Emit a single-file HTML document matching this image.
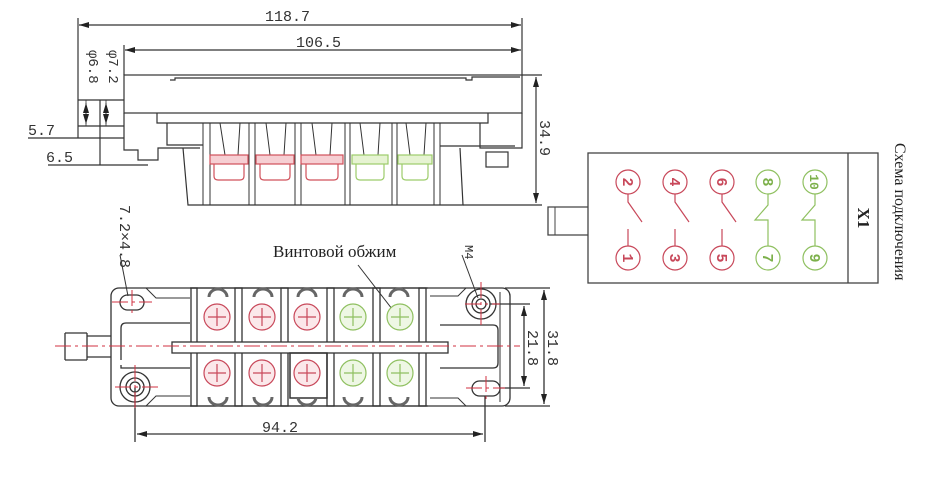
<!DOCTYPE html>
<html><head><meta charset="utf-8"><style>
html,body{margin:0;padding:0;background:#fff;}
svg{display:block}
text{font-family:"Liberation Mono","DejaVu Sans Mono",monospace;}
.s{font-family:"Liberation Serif","DejaVu Serif",serif;}
</style></head><body>
<svg width="928" height="478" viewBox="0 0 928 478" xmlns="http://www.w3.org/2000/svg">
<defs>
<marker id="a" viewBox="0 0 10 6" refX="10" refY="3" markerWidth="10" markerHeight="6" orient="auto-start-reverse" markerUnits="userSpaceOnUse"><path d="M0,0L10,3L0,6z" fill="#222"/></marker>
</defs>
<g fill="none" stroke="#333" stroke-width="1.2">
<line x1="79" y1="25" x2="521" y2="25" marker-start="url(#a)" marker-end="url(#a)"/>
<line x1="125" y1="50" x2="521" y2="50" marker-start="url(#a)" marker-end="url(#a)"/>
<line x1="522" y1="18" x2="522" y2="75"/>
<line x1="78" y1="18" x2="78" y2="138"/>
<line x1="124" y1="45" x2="124" y2="75"/>
<line x1="100" y1="100" x2="100" y2="165"/>
<line x1="86" y1="100" x2="86" y2="126" stroke-width="0.8"/>
<line x1="106" y1="100" x2="106" y2="126" stroke-width="0.8"/>
<line x1="78" y1="100" x2="124" y2="100"/>
<line x1="78" y1="126" x2="124" y2="126"/>
<line x1="86" y1="103" x2="86" y2="124" marker-start="url(#a)" marker-end="url(#a)" stroke-width="0.8"/>
<line x1="106" y1="103" x2="106" y2="124" marker-start="url(#a)" marker-end="url(#a)" stroke-width="0.8"/>
<line x1="28" y1="138" x2="124" y2="138"/>
<line x1="48" y1="165" x2="148" y2="165"/>
<rect x="124" y="75" width="398" height="38"/>
<path d="M170,80 L175,80 L175,78 L466,78 L466,80 L472,80 L472,77 L520,77"/>
<path d="M157,113 L157,123 L488,123 L488,113"/>
<path d="M124,113 L124,150 L138,150 L138,160 L158,160 L158,148 L200,148"/>
<path d="M167,123 L167,145 L203,145"/>
<path d="M522,113 L522,148 L480,148 L480,123"/>
<rect x="486" y="152" width="22" height="15"/>
<line x1="440" y1="146" x2="515" y2="146"/>
<path d="M183,148 L188,205 L463,205 L460,148"/>
<g stroke-width="1">
<line x1="203" y1="123" x2="203" y2="205"/><line x1="210" y1="123" x2="210" y2="205"/>
<line x1="249" y1="123" x2="249" y2="205"/><line x1="255" y1="123" x2="255" y2="205"/>
<line x1="295" y1="123" x2="295" y2="205"/><line x1="301" y1="123" x2="301" y2="205"/>
<line x1="345" y1="123" x2="345" y2="205"/><line x1="350" y1="123" x2="350" y2="205"/>
<line x1="392" y1="123" x2="392" y2="205"/><line x1="397" y1="123" x2="397" y2="205"/>
<line x1="434" y1="123" x2="434" y2="205"/><line x1="440" y1="123" x2="440" y2="205"/>
<path d="M220,123 L225,155 M240,123 L238,155 M266,123 L270,155 M286,123 L284,155 M312,123 L316,155 M332,123 L330,155 M360,123 L364,155 M380,123 L378,155 M406,123 L410,155 M426,123 L424,155"/>
</g>
<line x1="522" y1="75" x2="542" y2="75"/>
<line x1="463" y1="205" x2="542" y2="205"/>
<line x1="536" y1="77" x2="536" y2="203" marker-start="url(#a)" marker-end="url(#a)"/>
</g>
<g stroke-width="1.2">
<g stroke="#d0505a" fill="#f6cfd3">
<rect x="210" y="155" width="38" height="9"/><rect x="256" y="155" width="38" height="9"/><rect x="301" y="155" width="42" height="9"/>
</g>
<g stroke="#d0505a" fill="none">
<path d="M214,164 V176 Q214,180 218,180 H240 Q244,180 244,176 V164"/>
<path d="M260,164 V176 Q260,180 264,180 H286 Q290,180 290,176 V164"/>
<path d="M306,164 V176 Q306,180 310,180 H334 Q338,180 338,176 V164"/>
</g>
<g stroke="#9ccc6a" fill="#e6f3d2">
<rect x="352" y="155" width="36" height="9"/><rect x="398" y="155" width="34" height="9"/>
</g>
<g stroke="#9ccc6a" fill="none">
<path d="M356,164 V176 Q356,180 360,180 H380 Q384,180 384,176 V164"/>
<path d="M402,164 V176 Q402,180 406,180 H424 Q428,180 428,176 V164"/>
</g>
</g>
<text x="265" y="21" font-size="15" fill="#333">118.7</text>
<text x="296" y="47" font-size="15" fill="#333">106.5</text>
<text x="28" y="135" font-size="15" fill="#333">5.7</text>
<text x="46" y="162" font-size="15" fill="#333">6.5</text>
<text transform="translate(89,50) rotate(90)" font-size="14" fill="#333">φ6.8</text>
<text transform="translate(109,50) rotate(90)" font-size="14" fill="#333">φ7.2</text>
<text transform="translate(540,120) rotate(90)" font-size="15" fill="#333">34.9</text>

<g fill="none" stroke="#333" stroke-width="1.3">
<rect x="111" y="288" width="399" height="118" rx="8"/>
<path d="M87,336 H111 M87,357 H111 M87,333 V360 M65,333 H87 M65,360 H87 M65,333 V360"/>
<path d="M121,360 V328 Q121,323 126,323 H190"/>
<path d="M121,365 V368 H190"/>
<path d="M440,325 H493 Q498,325 498,330 V363 Q498,368 493,368 H440"/>
<path d="M146,288 L156,298 H190 M146,406 L156,396 H190 M466,288 L458,296 H430 M466,406 L458,398 H430" stroke-width="1"/>
<path d="M500,292 V402" stroke-width="1"/>
<line x1="190" y1="288" x2="428" y2="288"/><line x1="190" y1="406" x2="428" y2="406"/>
<rect x="191" y="288" width="6" height="118"/><rect x="235" y="288" width="7" height="118"/>
<rect x="281" y="288" width="7" height="118"/><rect x="327" y="288" width="7" height="118"/>
<rect x="373" y="288" width="7" height="118"/><rect x="419" y="288" width="7" height="118"/>
<rect x="172" y="342" width="276" height="11" fill="#fff"/>
<rect x="290" y="353" width="37" height="45" stroke-width="1.5"/>
<rect x="120" y="295" width="24" height="15" rx="7.5"/>
<rect x="472" y="381" width="28" height="15" rx="7.5"/>
<circle cx="135" cy="387" r="15"/><circle cx="135" cy="387" r="9"/><circle cx="135" cy="387" r="5"/>
<circle cx="481" cy="304" r="15"/><circle cx="481" cy="304" r="9"/><circle cx="481" cy="304" r="5"/>
<line x1="135" y1="387" x2="135" y2="442"/><line x1="485" y1="396" x2="485" y2="442"/>
<line x1="137" y1="434" x2="483" y2="434" marker-start="url(#a)" marker-end="url(#a)"/>
<line x1="490" y1="304" x2="530" y2="304"/><line x1="500" y1="388" x2="530" y2="388"/>
<line x1="524" y1="306" x2="524" y2="386" marker-start="url(#a)" marker-end="url(#a)"/>
<line x1="505" y1="288" x2="550" y2="288"/><line x1="505" y1="406" x2="550" y2="406"/>
<line x1="544" y1="290" x2="544" y2="404" marker-start="url(#a)" marker-end="url(#a)"/>
<line x1="120" y1="255" x2="128" y2="296" stroke-width="1"/>
<line x1="462" y1="255" x2="478" y2="298" stroke-width="1"/>
<line x1="358" y1="265" x2="399" y2="318" stroke-width="1"/>
</g>
<g fill="none" stroke="#666" stroke-width="3">
<path d="M209,297 A9,8 0 0 1 227,297"/><path d="M254,297 A9,8 0 0 1 272,297"/><path d="M298,297 A9,8 0 0 1 316,297"/><path d="M344,297 A9,8 0 0 1 362,297"/><path d="M390,297 A9,8 0 0 1 408,297"/>
<path d="M209,397 A9,8 0 0 0 227,397"/><path d="M254,397 A9,8 0 0 0 272,397"/><path d="M298,397 A9,8 0 0 0 316,397"/><path d="M344,397 A9,8 0 0 0 362,397"/><path d="M390,397 A9,8 0 0 0 408,397"/>
</g>
<g stroke-width="1.2">
<g stroke="#c8485a" fill="#fbe8ea">
<circle cx="217" cy="317" r="13"/><circle cx="262" cy="317" r="13"/><circle cx="307" cy="317" r="13"/>
<circle cx="217" cy="373" r="13"/><circle cx="262" cy="373" r="13"/><circle cx="307" cy="373" r="13"/>
</g>
<g stroke="#8fc060" fill="#eef7e4">
<circle cx="353" cy="317" r="13"/><circle cx="400" cy="317" r="13"/>
<circle cx="353" cy="373" r="13"/><circle cx="400" cy="373" r="13"/>
</g>
<g fill="none" stroke="#c8485a">
<path d="M217,308V326M208,317H226M262,308V326M253,317H271M307,308V326M298,317H316M217,364V382M208,373H226M262,364V382M253,373H271M307,364V382M298,373H316"/>
</g>
<g fill="none" stroke="#8fc060">
<path d="M353,308V326M344,317H362M400,308V326M391,317H409M353,364V382M344,373H362M400,364V382M391,373H409"/>
</g>
</g>
<g stroke="#d03040" stroke-width="1" fill="none" stroke-dasharray="16,4,3,4">
<line x1="55" y1="346" x2="520" y2="346"/>
<line x1="112" y1="302" x2="152" y2="302"/><line x1="132" y1="290" x2="132" y2="315"/>
<line x1="115" y1="387" x2="158" y2="387"/><line x1="135" y1="365" x2="135" y2="412"/>
<line x1="465" y1="304" x2="500" y2="304"/><line x1="481" y1="282" x2="481" y2="326"/>
<line x1="466" y1="388" x2="505" y2="388"/><line x1="486" y1="376" x2="486" y2="402"/>
</g>
<text class="s" x="273" y="257" font-size="17" fill="#222">Винтовой обжим</text>
<text x="262" y="432" font-size="15" fill="#333">94.2</text>
<text transform="translate(120,205) rotate(90)" font-size="15" fill="#333">7.2×4.8</text>
<text transform="translate(465,245) rotate(90)" font-size="12" fill="#333">M4</text>
<text transform="translate(528,330) rotate(90)" font-size="15" fill="#333">21.8</text>
<text transform="translate(548,330) rotate(90)" font-size="15" fill="#333">31.8</text>

<g fill="none" stroke="#444" stroke-width="1.3">
<rect x="588" y="153" width="290" height="130"/>
<line x1="848" y1="153" x2="848" y2="283"/>
<path d="M588,207 H548 V235 H588"/>
<path d="M555,207 V235" stroke-width="1"/>
</g>
<g fill="none" stroke="#c8485a" stroke-width="1.2">
<circle cx="628" cy="182" r="12"/><circle cx="675" cy="182" r="12"/><circle cx="722" cy="182" r="12"/>
<circle cx="628" cy="258" r="12"/><circle cx="675" cy="258" r="12"/><circle cx="722" cy="258" r="12"/>
<path d="M628,194V202L642,222M628,229V246M675,194V202L689,222M675,229V246M722,194V202L736,222M722,229V246"/>
</g>
<g fill="none" stroke="#8fc060" stroke-width="1.2">
<circle cx="768" cy="182" r="12"/><circle cx="815" cy="182" r="12"/>
<circle cx="768" cy="258" r="12"/><circle cx="815" cy="258" r="12"/>
<path d="M768,194V205L755,220H768V246M815,194V205L802,220H815V246"/>
</g>
<g font-size="15" font-weight="bold" text-anchor="middle">
<g fill="#c8485a">
<text transform="translate(623,182) rotate(90)">2</text><text transform="translate(670,182) rotate(90)">4</text><text transform="translate(717,182) rotate(90)">6</text>
<text transform="translate(623,258) rotate(90)">1</text><text transform="translate(670,258) rotate(90)">3</text><text transform="translate(717,258) rotate(90)">5</text>
</g>
<g fill="#7cb04a">
<text transform="translate(763,182) rotate(90)">8</text><text transform="translate(810,182) rotate(90)" font-size="13">10</text>
<text transform="translate(763,258) rotate(90)">7</text><text transform="translate(810,258) rotate(90)">9</text>
</g>
</g>
<text class="s" transform="translate(858,218) rotate(90)" font-size="17" font-weight="bold" fill="#222" text-anchor="middle">X1</text>
<text class="s" transform="translate(895,143) rotate(90)" font-size="16" fill="#222">Схема подключения</text>
</svg>
</body></html>
